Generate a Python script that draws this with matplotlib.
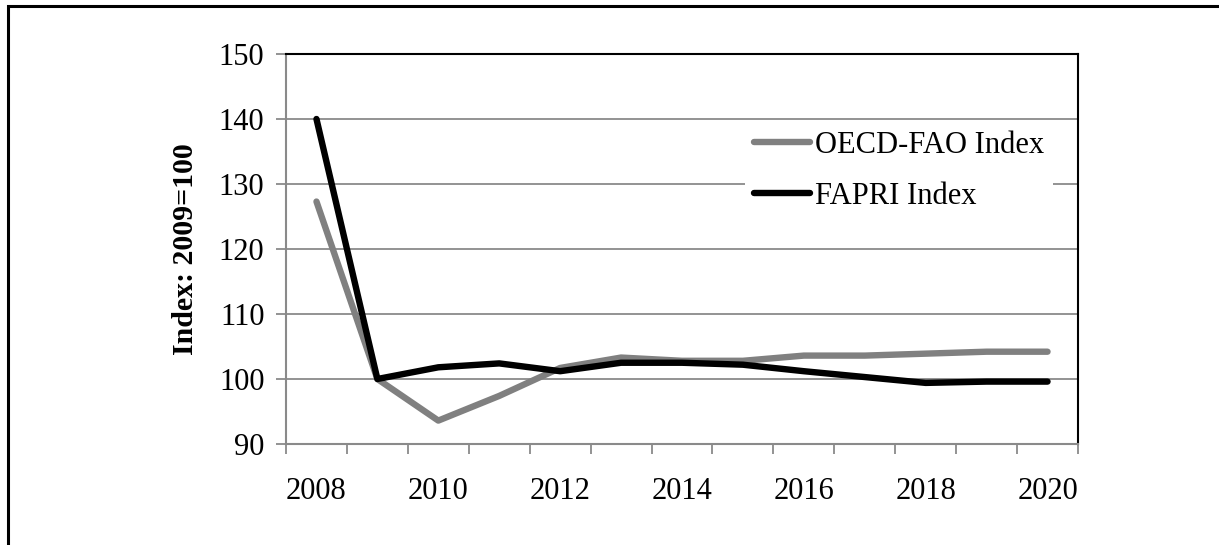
import matplotlib
matplotlib.use("Agg")
import matplotlib.pyplot as plt
from matplotlib.patches import Rectangle
import numpy as np

years = [2008, 2009, 2010, 2011, 2012, 2013, 2014, 2015, 2016, 2017, 2018, 2019, 2020]
oecd_fao = [127.3, 100.0, 93.6, 97.4, 101.7, 103.3, 102.8, 102.8, 103.6, 103.6, 103.9, 104.2, 104.2]
fapri = [140.0, 100.0, 101.8, 102.4, 101.2, 102.5, 102.5, 102.2, 101.2, 100.3, 99.4, 99.6, 99.6]
label_years = [2008, 2010, 2012, 2014, 2016, 2018, 2020]

plt.rcParams['font.family'] = ['Liberation Serif', 'DejaVu Serif']
FS = 22

W, H = 1219, 545
fig = plt.figure(figsize=(W / 100, H / 100), dpi=100)

# outer frame (only top and left edges fall inside the canvas)
fig.add_artist(Rectangle((8 / W, -0.1), 1.2, (H - 6) / H + 0.1,
                         transform=fig.transFigure, fill=False,
                         edgecolor='black', linewidth=2.2))

left, right, top, bottom = 286, 1078, 54, 444
ax = fig.add_axes([left / W, 1 - bottom / H, (right - left) / W, (bottom - top) / H])

x = np.arange(len(years)) + 0.5
grid_c = '#8a8a8a'

ax.plot(x, oecd_fao, color='#808080', lw=4.6, solid_capstyle='round',
        solid_joinstyle='round', label='OECD-FAO Index', zorder=3)
ax.plot(x, fapri, color='black', lw=4.6, solid_capstyle='round',
        solid_joinstyle='round', label='FAPRI Index', zorder=4)

ax.set_xlim(0, len(years))
ax.set_ylim(90, 150)
ax.set_yticks(np.arange(90, 151, 10))
ax.yaxis.grid(True, color=grid_c, lw=1.3)
ax.set_axisbelow(True)

# category boundaries carry tick marks, labels sit at category centres
ax.set_xticks(np.arange(len(years) + 1))
ax.set_xticklabels([])
ax.set_xticks([years.index(y) + 0.5 for y in label_years], minor=True)
ax.set_xticklabels([str(y) for y in label_years], minor=True)
ax.tick_params(axis='x', which='major', length=7.5, width=1.3, color=grid_c, direction='out')
ax.tick_params(axis='x', which='minor', length=0, pad=24, labelsize=FS)
ax.tick_params(axis='y', length=7.5, width=1.3, color=grid_c, direction='out',
               labelsize=FS, pad=8)

for s in ('left', 'bottom'):
    ax.spines[s].set_color(grid_c)
    ax.spines[s].set_linewidth(1.5)
for s in ('top', 'right'):
    ax.spines[s].set_color('black')
    ax.spines[s].set_linewidth(1.5)

ax.set_ylabel('Index: 2009=100', fontsize=21.5, fontweight='bold', labelpad=14)

leg = ax.legend(loc='upper left',
                bbox_to_anchor=((745 - left) / (right - left), 1 - (122 - top) / (bottom - top)),
                frameon=True, fontsize=FS, handlelength=1.83, handletextpad=0.16,
                labelspacing=0.72, borderpad=0.3, borderaxespad=0, fancybox=False)
leg.get_frame().set_edgecolor('none')
leg.get_frame().set_facecolor('white')
leg.get_frame().set_alpha(1)

fig.savefig('out.png', dpi=100)
